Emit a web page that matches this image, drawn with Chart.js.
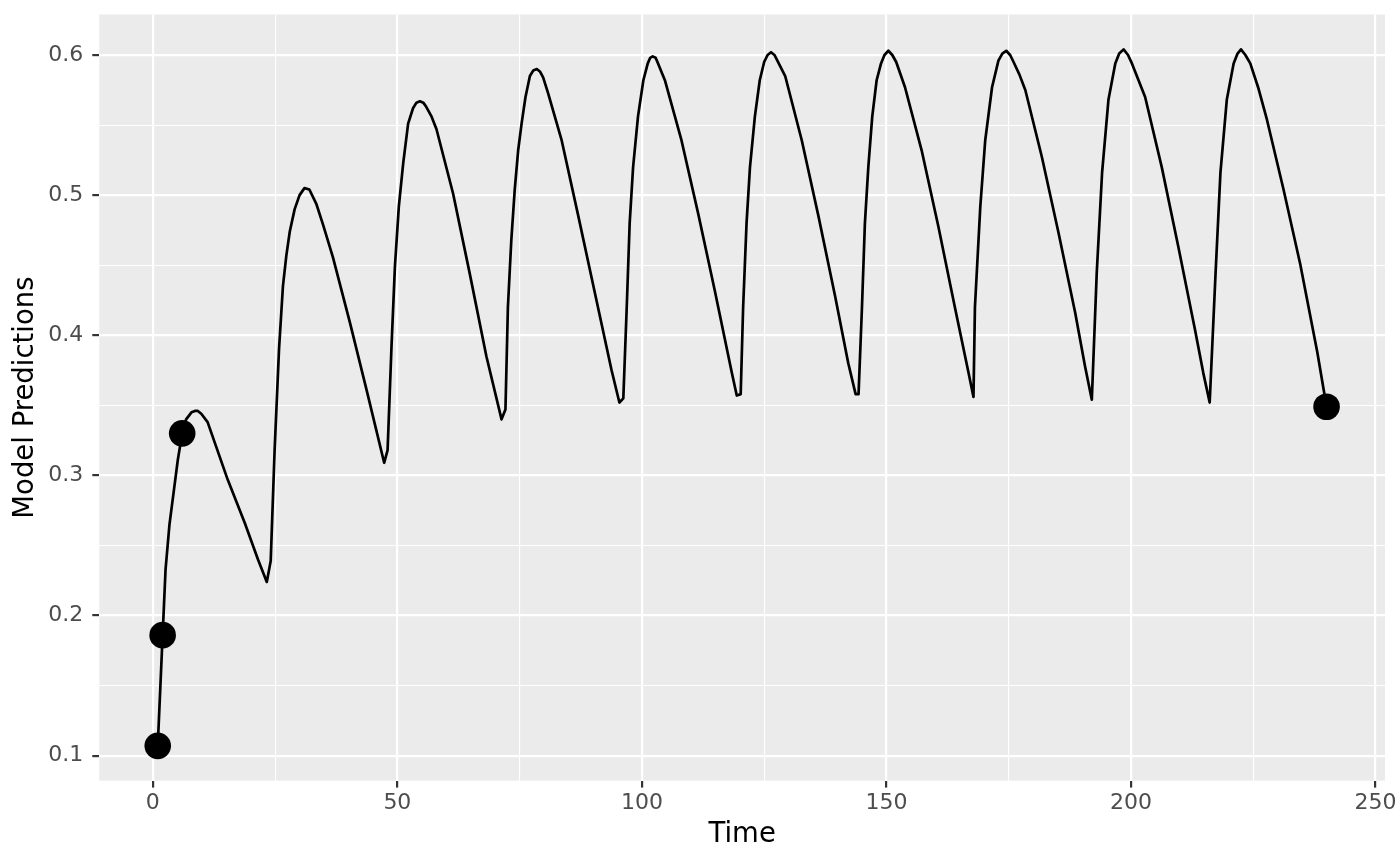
<!DOCTYPE html>
<html>
<head>
<meta charset="utf-8">
<title>Model Predictions</title>
<script src="https://cdn.jsdelivr.net/npm/chart.js@4.4.0/dist/chart.umd.min.js"></script>
<style>
  html, body { margin: 0; padding: 0; background: #ffffff; }
  #wrap { width: 1400px; height: 865px; }
</style>
</head>
<body>
<div id="wrap"><canvas id="chart" width="1400" height="865"></canvas></div>
<script>
// model prediction curve (one row per dosing interval)
const times = [
  1.0, 2.0, 2.6, 3.4, 4.4, 5.1, 6.0, 6.8, 7.9, 8.6, 9.2, 9.9, 11.2, 12.0, 15.3, 18.8, 21.5, 23.3, 24.1,
  24.9, 25.8, 26.6, 27.3, 28.0, 29.0, 30.0, 31.0, 32.0, 33.4, 34.8, 36.8, 40.3, 43.7, 47.3, 48.0,
  48.8, 49.5, 50.3, 51.2, 52.2, 53.2, 53.9, 54.6, 55.3, 55.9, 57.0, 58.0, 61.4, 64.8, 68.2, 71.3, 72.1,
  72.6, 73.3, 74.0, 74.7, 75.4, 76.2, 77.1, 77.8, 78.5, 79.2, 79.8, 80.8, 83.6, 87.0, 90.4, 93.8, 95.4, 96.2,
  96.9, 97.5, 98.2, 99.2, 100.3, 101.2, 101.7, 102.2, 102.8, 103.3, 104.7, 108.1, 111.5, 114.9, 118.4, 119.4, 120.2,
  120.7, 121.4, 122.1, 123.1, 124.1, 125.0, 125.7, 126.4, 127.1, 127.7, 129.3, 132.7, 136.1, 139.5, 142.2, 143.7, 144.3,
  145.0, 145.6, 146.3, 147.1, 148.0, 148.9, 149.6, 150.4, 151.2, 152.0, 153.8, 157.2, 160.6, 164.0, 166.8, 167.8,
  168.1, 169.2, 170.2, 171.6, 172.9, 173.7, 174.5, 175.3, 176.0, 177.2, 178.4, 181.8, 185.2, 188.6, 190.6, 192.0,
  193.0, 194.1, 195.4, 196.8, 197.6, 198.5, 199.4, 200.2, 202.9, 206.3, 209.7, 213.1, 214.8, 216.1,
  217.3, 218.3, 219.6, 221.0, 221.8, 222.5, 223.4, 224.4, 226.0, 227.8, 231.2, 234.6, 238.1, 240.0
];
const predictions = [
  0.107, 0.186, 0.233, 0.265, 0.292, 0.311, 0.330, 0.340, 0.345, 0.346, 0.346, 0.344, 0.338, 0.330, 0.297, 0.266, 0.240, 0.224, 0.239,
  0.318, 0.390, 0.435, 0.457, 0.474, 0.490, 0.500, 0.505, 0.504, 0.494, 0.479, 0.456, 0.409, 0.361, 0.309, 0.318,
  0.392, 0.449, 0.492, 0.523, 0.551, 0.562, 0.566, 0.567, 0.566, 0.563, 0.556, 0.547, 0.501, 0.444, 0.385, 0.340, 0.347,
  0.420, 0.468, 0.504, 0.532, 0.551, 0.570, 0.585, 0.589, 0.590, 0.588, 0.584, 0.573, 0.539, 0.485, 0.430, 0.375, 0.352, 0.355,
  0.420, 0.480, 0.520, 0.556, 0.582, 0.594, 0.598, 0.599, 0.598, 0.594, 0.582, 0.539, 0.487, 0.432, 0.373, 0.357, 0.358,
  0.420, 0.480, 0.520, 0.556, 0.582, 0.595, 0.600, 0.602, 0.600, 0.596, 0.585, 0.539, 0.485, 0.428, 0.380, 0.358, 0.358,
  0.420, 0.480, 0.520, 0.556, 0.582, 0.594, 0.600, 0.603, 0.600, 0.595, 0.577, 0.532, 0.478, 0.420, 0.373, 0.356,
  0.420, 0.492, 0.539, 0.577, 0.596, 0.601, 0.603, 0.600, 0.595, 0.586, 0.575, 0.527, 0.473, 0.416, 0.378, 0.354,
  0.444, 0.516, 0.568, 0.594, 0.601, 0.604, 0.600, 0.594, 0.570, 0.520, 0.463, 0.404, 0.373, 0.352,
  0.444, 0.516, 0.568, 0.594, 0.601, 0.604, 0.600, 0.594, 0.577, 0.554, 0.504, 0.451, 0.388, 0.349
];

// observed points
const obsTimes = [1, 2, 6, 240];
const obsValues = [0.107, 0.186, 0.330, 0.349];

// axis breaks
const xBreaks = [0, 50, 100, 150, 200, 250];
const xMinor = [25, 75, 125, 175, 225];
const yBreaks = [0.1, 0.2, 0.3, 0.4, 0.5, 0.6];
const yMinor = [0.15, 0.25, 0.35, 0.45, 0.55];
const xLimits = [-10.95, 251.95];
const yLimits = [0.0822, 0.6289];

const FONT = '"DejaVu Sans", "Liberation Sans", sans-serif';

// gray panel behind the grid
const panelBg = {
  id: 'panelBg',
  beforeDraw(chart) {
    const { ctx, chartArea: a } = chart;
    ctx.save();
    ctx.fillStyle = '#EBEBEB';
    ctx.fillRect(a.left, a.top, a.right - a.left, a.bottom - a.top);
    ctx.restore();
  }
};

function gridFor(major) {
  const isMajor = (c) => c.tick && major.includes(c.tick.value);
  return {
    color: '#FFFFFF',
    lineWidth: (c) => isMajor(c) ? 2.2 : 1.1,
    drawTicks: true,
    tickLength: 7,
    tickWidth: 2.2,
    tickColor: (c) => isMajor(c) ? '#333333' : 'rgba(0,0,0,0)'
  };
}

const linePoints = times.map((t, i) => ({ x: t, y: predictions[i] }));
const obsPoints = obsTimes.map((t, i) => ({ x: t, y: obsValues[i] }));

new Chart(document.getElementById('chart').getContext('2d'), {
  type: 'line',
  data: {
    datasets: [
      {
        label: 'observed',
        data: obsPoints,
        showLine: false,
        pointRadius: 13.3,
        pointHoverRadius: 13.3,
        pointBackgroundColor: '#000000',
        pointBorderWidth: 0,
        order: 0
      },
      {
        label: 'predicted',
        data: linePoints,
        borderColor: '#000000',
        borderWidth: 2.7,
        borderJoinStyle: 'round',
        tension: 0,
        pointRadius: 0,
        fill: false,
        order: 1
      }
    ]
  },
  options: {
    responsive: false,
    devicePixelRatio: 1,
    animation: false,
    events: [],
    layout: { padding: { top: 14.5, right: 15, left: 0, bottom: 0 } },
    plugins: {
      legend: { display: false },
      tooltip: { enabled: false }
    },
    scales: {
      x: {
        type: 'linear',
        min: xLimits[0],
        max: xLimits[1],
        afterBuildTicks: (s) => {
          s.ticks = xBreaks.concat(xMinor).sort((a, b) => a - b).map(v => ({ value: v }));
        },
        afterFit: (s) => {
          s.height = 84.4;
          s.paddingLeft = 0;
          s.paddingRight = 0;
        },
        ticks: {
          autoSkip: false,
          maxRotation: 0,
          padding: 2,
          color: '#4D4D4D',
          font: { family: FONT, size: 22 },
          callback: (v) => xBreaks.includes(v) ? String(v) : ''
        },
        grid: gridFor(xBreaks),
        border: { display: false },
        title: {
          display: true,
          text: 'Time',
          color: '#000000',
          font: { family: FONT, size: 27.5 },
          padding: { top: 0, bottom: 13.5 }
        }
      },
      y: {
        type: 'linear',
        min: yLimits[0],
        max: yLimits[1],
        afterBuildTicks: (s) => {
          s.ticks = yBreaks.concat(yMinor).sort((a, b) => a - b).map(v => ({ value: v }));
        },
        afterFit: (s) => {
          s.width = 99.3;
          s.paddingTop = 0;
          s.paddingBottom = 0;
        },
        ticks: {
          autoSkip: false,
          padding: 9,
          color: '#4D4D4D',
          font: { family: FONT, size: 22 },
          callback: (v) => yBreaks.includes(v) ? v.toFixed(1) : ''
        },
        grid: gridFor(yBreaks),
        border: { display: false },
        title: {
          display: true,
          text: 'Model Predictions',
          color: '#000000',
          font: { family: FONT, size: 27.5 },
          padding: { top: 9, bottom: 0 }
        }
      }
    }
  },
  plugins: [panelBg]
});
</script>
</body>
</html>
